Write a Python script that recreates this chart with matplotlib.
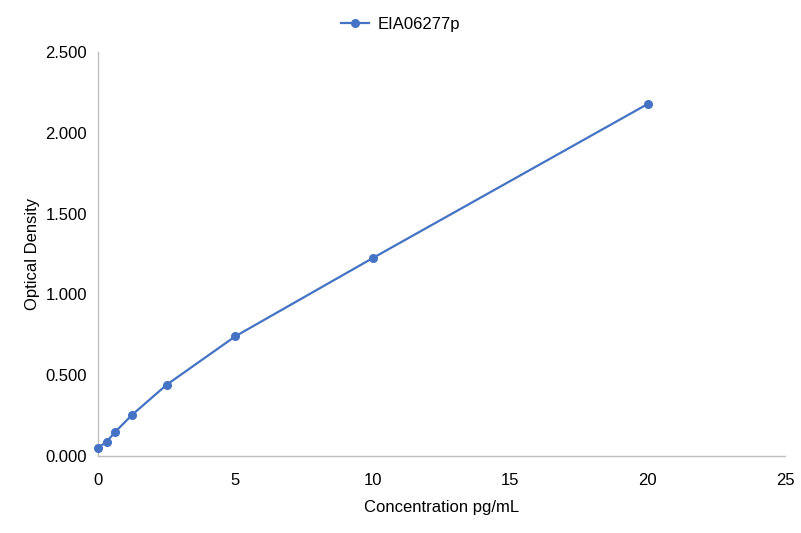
import matplotlib
matplotlib.use("Agg")
import matplotlib.pyplot as plt
from matplotlib.ticker import FormatStrFormatter

plt.rcParams['font.family'] = ['Liberation Sans', 'DejaVu Sans']

concentration = [0, 0.3125, 0.625, 1.25, 2.5, 5, 10, 20]
optical_density = [0.051, 0.088, 0.149, 0.256, 0.441, 0.741, 1.225, 2.178]
series_name = "EIA06277p"

fig = plt.figure(figsize=(8.01, 5.33), dpi=100)
ax = fig.add_axes([98/801, 77/533, 687/801, 404/533])
color = '#4472C4'
ax.plot(concentration, optical_density, color=color, lw=1.6, marker='o', ms=5.5,
        label=series_name, clip_on=False, zorder=3)
ax.set_xlim(0, 25)
ax.set_ylim(0, 2.5)
ax.set_xticks([0, 5, 10, 15, 20, 25])
ax.set_yticks([0, 0.5, 1.0, 1.5, 2.0, 2.5])
ax.yaxis.set_major_formatter(FormatStrFormatter('%.3f'))
for s in ['top', 'right']:
    ax.spines[s].set_visible(False)
for s in ['left', 'bottom']:
    ax.spines[s].set_color('#BFBFBF')
    ax.spines[s].set_linewidth(1)
ax.tick_params(length=0, labelsize=12, colors='black')
ax.tick_params(axis='y', pad=8)
ax.tick_params(axis='x', pad=12)
ax.set_xlabel('Concentration pg/mL', fontsize=12, color='black', labelpad=9)
ax.set_ylabel('Optical Density', fontsize=12, color='black', labelpad=3.5)
fig.legend(loc='upper center', bbox_to_anchor=(0.5, 0.997), frameon=False, fontsize=12,
           labelcolor='black', handlelength=1.7, handletextpad=0.5)
fig.savefig('out.png', dpi=100)
